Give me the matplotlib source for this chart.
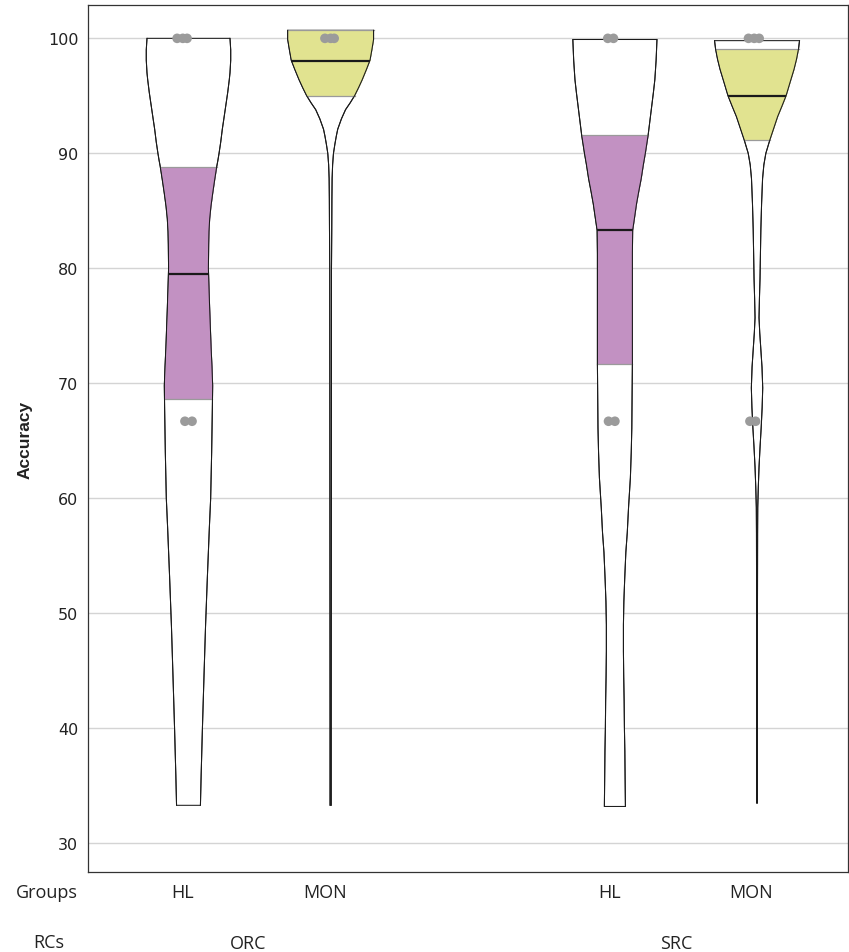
import numpy as np
import matplotlib.pyplot as plt
from matplotlib.transforms import blended_transform_factory

rcs = ["ORC", "SRC"]
groups = ["HL", "MON", "HL", "MON"]
positions = [1, 2, 4, 5]
box_colors = ["#bf8bbf", "#e0e28a", "#bf8bbf", "#e0e28a"]

# violin outlines: accuracy level and half-width of the density
orc_hl_acc = [33.3, 35.9, 40, 44.5, 48.9, 53.2, 57.5, 60, 64, 67.9, 69.8, 71.5, 73.1,
              76.5, 78, 80, 82.1, 83.2, 84.3, 85.4, 86.5, 87.6, 88.8, 89.4, 90, 91, 92.1,
              93.1, 94.2, 95.3, 96.4, 97, 98.1, 99, 100]
orc_hl_w = [0.084, 0.089, 0.098, 0.109, 0.120, 0.133, 0.147, 0.156, 0.163, 0.168, 0.170, 0.165, 0.159,
            0.149, 0.145, 0.140, 0.142, 0.144, 0.149, 0.158, 0.170, 0.183, 0.198, 0.207, 0.215, 0.227, 0.238,
            0.250, 0.263, 0.276, 0.287, 0.292, 0.297, 0.297, 0.292]

orc_mon_acc = [33.3, 40, 60, 80, 83.4, 86, 87.8, 89, 90, 90.8, 91.5, 92.1, 93, 93.8, 94.4,
               95, 95.7, 96.4, 97.3, 98.1, 99, 99.9, 100.7]
orc_mon_w = [0.004, 0.004, 0.005, 0.006, 0.008, 0.009, 0.0105, 0.014, 0.020, 0.030, 0.040, 0.050,
             0.076, 0.105, 0.138, 0.168, 0.196, 0.222, 0.252, 0.277, 0.290, 0.302, 0.302]

src_hl_acc = [33.2, 35.5, 38, 40, 42.4, 44.5, 46.7, 49, 51, 53, 55.3, 57, 59.2, 61.8, 64,
              66.1, 71.7, 77, 81.3, 83.3, 84.4, 85.6, 86.7, 87.8, 89, 90, 91.6, 93, 94.2,
              95.3, 96.4, 98.1, 99.9]
src_hl_w = [0.074, 0.072, 0.070, 0.067, 0.065, 0.062, 0.060, 0.060, 0.063, 0.069, 0.077, 0.087,
            0.096, 0.109, 0.115, 0.119, 0.123, 0.123, 0.123, 0.125, 0.138, 0.152, 0.168, 0.185,
            0.200, 0.214, 0.234, 0.248, 0.260, 0.271, 0.281, 0.290, 0.296]

src_mon_acc = [33.5, 50, 57, 59.2, 61, 62.7, 64.4, 66.1, 67.9, 69.6, 71.4, 73.1, 74.4, 75.7,
               77.4, 79.1, 81.3, 83.4, 85.6, 87.8, 89, 90, 91.2, 92.2, 93.2, 94.1, 95, 96.2,
               97.3, 98.2, 99.1, 99.8]
src_mon_w = [0.003, 0.003, 0.004, 0.005, 0.009, 0.014, 0.021, 0.029, 0.036, 0.040, 0.035, 0.026,
             0.019, 0.014, 0.017, 0.021, 0.024, 0.027, 0.032, 0.039, 0.048, 0.062, 0.091, 0.118,
             0.145, 0.175, 0.204, 0.233, 0.260, 0.278, 0.292, 0.299]

# lower quartile, median, upper quartile
q1 = [68.6, 95.0, 71.7, 91.2]
medians = [79.5, 98.05, 83.3, 95.0]
q3 = [88.8, 100.7, 91.6, 99.1]

# individual scores shown as points (accuracy, horizontal jitter)
pts_acc = [[100, 100, 100, 66.7, 66.7],
           [100, 100, 100],
           [100, 100, 66.7, 66.7],
           [100, 100, 100, 66.7, 66.7]]
pts_jit = [[-0.08, -0.04, -0.01, -0.025, 0.025],
           [-0.04, 0.0, 0.025],
           [-0.05, -0.01, -0.045, 0.0],
           [-0.06, -0.02, 0.015, -0.05, -0.01]]

profiles = [(orc_hl_acc, orc_hl_w), (orc_mon_acc, orc_mon_w),
            (src_hl_acc, src_hl_w), (src_mon_acc, src_mon_w)]

fig = plt.figure(figsize=(8.49, 9.53), dpi=100)
ax = fig.add_axes([88 / 849, 1 - 873 / 953, 760 / 849, 867 / 953])

for i, (acc, w) in enumerate(profiles):
    pos = positions[i]
    acc = np.array(acc)
    w = np.array(w)
    # violin body
    xs = np.concatenate([pos - w, (pos + w)[::-1]])
    ys = np.concatenate([acc, acc[::-1]])
    ax.fill(xs, ys, facecolor="white", edgecolor="#1a1a1a", linewidth=0.75,
            joinstyle="round", zorder=2)

    # box drawn inside the violin from q1 to q3
    lo, hi = q1[i], min(q3[i], acc.max())
    inside = (acc > lo) & (acc < hi)
    by = np.concatenate([[lo], acc[inside], [hi]])
    bw = np.interp(by, acc, w)
    ax.fill_betweenx(by, pos - bw, pos + bw, color=box_colors[i], alpha=0.95,
                     linewidth=0, zorder=3)
    for yv, wv in ((by[0], bw[0]), (by[-1], bw[-1])):
        ax.plot([pos - wv, pos + wv], [yv, yv], color="#9a9a9a", linewidth=0.9, zorder=3)
    # outline again so the box doesn't cover it
    ax.plot(pos - w, acc, color="#1a1a1a", linewidth=0.75, zorder=4)
    ax.plot(pos + w, acc, color="#1a1a1a", linewidth=0.75, zorder=4)

    mw = np.interp(medians[i], acc, w)
    ax.plot([pos - mw, pos + mw], [medians[i], medians[i]], color="#1a1a1a",
            linewidth=1.6, zorder=5, solid_capstyle="butt")

    ax.scatter(pos + np.array(pts_jit[i]), pts_acc[i], s=48, color="#9b9b9b",
               edgecolors="none", zorder=6)

ax.set_xlim(0.293, 5.64)
ax.set_ylim(27.5, 102.9)
ax.set_yticks(np.arange(30, 101, 10))
ax.set_xticks([])
ax.yaxis.grid(True, color="#d4d4d4", linewidth=1.0)
ax.set_axisbelow(True)
ax.tick_params(axis="y", length=0, pad=7, labelsize=11.5, labelcolor="#222222")
for lbl in ax.get_yticklabels():
    lbl.set_family("DejaVu Sans")
for sp in ax.spines.values():
    sp.set_color("#333333")
    sp.set_linewidth(0.9)

ax.set_ylabel("Accuracy", family="Liberation Sans", fontsize=12.5, fontweight="bold",
              color="#222222", labelpad=11)

# two rows of category labels under the plot
trans = blended_transform_factory(ax.transData, ax.transAxes)
for pos, g in zip(positions, groups):
    ax.text(pos - 0.04, -0.023, g, transform=trans, ha="center", va="center",
            family="Open Sans", fontsize=13, color="#222222")
for xc, rc in zip([1.42, 4.43], rcs):
    ax.text(xc, -0.082, rc, transform=trans, ha="center", va="center",
            family="Open Sans", fontsize=13, color="#222222")
fig.text(46.5 / 849, 1 - 893 / 953, "Groups", ha="center", va="center",
         family="Open Sans", fontsize=13, color="#222222")
fig.text(49 / 849, 1 - 943 / 953, "RCs", ha="center", va="center",
         family="Open Sans", fontsize=13, color="#222222")

fig.savefig("out.png", dpi=100)
